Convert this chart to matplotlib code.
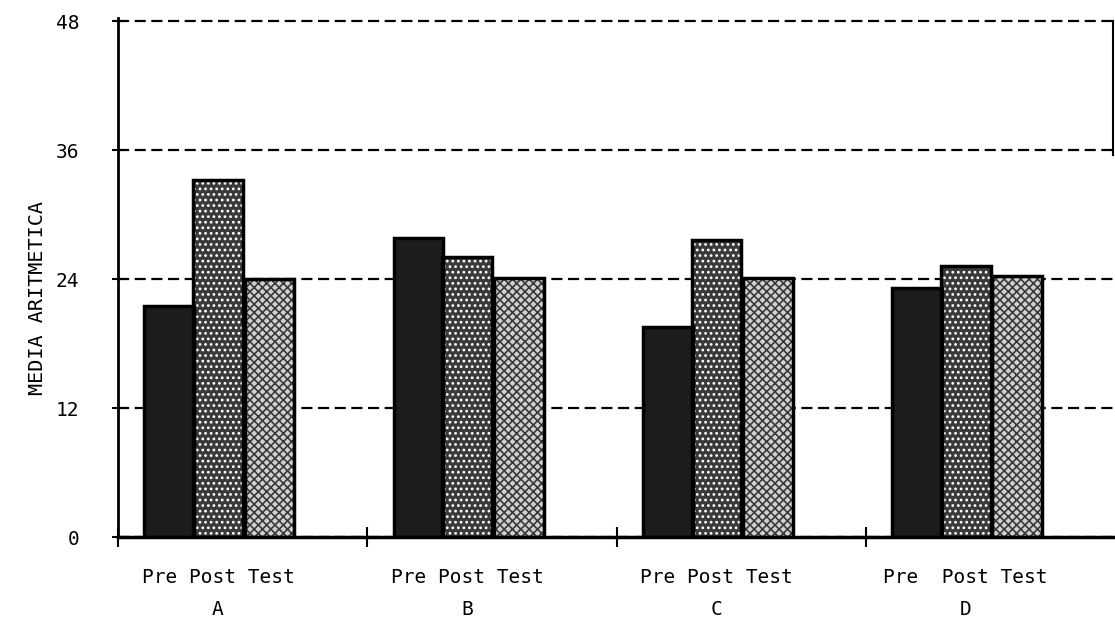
import numpy as np
import matplotlib.pyplot as plt

# medias por grupo
grupos = ["A", "B", "C", "D"]
etiquetas = ["Pre Post Test", "Pre Post Test", "Pre Post Test", "Pre  Post Test"]
pre = [21.5, 27.8, 19.5, 23.2]
post = [33.2, 26.1, 27.6, 25.2]
test = [24.0, 24.1, 24.1, 24.3]
yticks = [0, 12, 24, 36, 48]

plt.rcParams['font.family'] = ['DejaVu Sans Mono', 'DejaVu Sans']
plt.rcParams['hatch.linewidth'] = 1.2

fig = plt.figure(figsize=(11.15, 6.18), dpi=100)
ax = fig.add_axes([0.106, 0.131, 0.892, 0.84])

x = np.arange(len(grupos))
ancho = 0.2
series = [
    (pre, 0.205, '#1c1c1c', '', '#1c1c1c'),
    (post, 0.40, '#3a3a3a', '...', 'white'),
    (test, 0.607, '#d0d0d0', 'xxxx', '#3a3a3a'),
]
for vals, off, fc, hatch, hc in series:
    ax.bar(x + off, vals, ancho, color=fc, hatch=hatch, edgecolor=hc, linewidth=0, zorder=2)
    ax.bar(x + off, vals, ancho, fill=False, edgecolor='black', linewidth=2.5, zorder=3)

ax.set_xlim(0, 3.99)
ax.set_ylim(0, 48.3)

ax.set_yticks(yticks)
ax.set_yticklabels([str(v) for v in yticks], fontsize=14)
ax.tick_params(axis='y', direction='inout', length=8, width=1.5, pad=24)
ax.yaxis.grid(True, linestyle=(0, (5, 2.5)), color='black', linewidth=1.6)
ax.set_axisbelow(True)

ax.set_xticks(x)
ax.set_xticklabels([])
ax.tick_params(axis='x', which='major', direction='inout', length=14, width=1.5)
ax.set_xticks(x + 0.4, minor=True)
ax.set_xticklabels([e + "\n" + g for e, g in zip(etiquetas, grupos)], minor=True,
                   fontsize=14, linespacing=1.9)
ax.tick_params(axis='x', which='minor', length=0, pad=22)

ax.set_ylabel("MEDIA ARITMETICA", fontsize=14.5, labelpad=6)
ax.yaxis.set_label_coords(-0.072, 0.46)

ax.spines['top'].set_visible(False)
ax.spines['right'].set_bounds(35.5, 48)
ax.spines['right'].set_linewidth(1.5)
ax.spines['left'].set_linewidth(2)
ax.spines['bottom'].set_linewidth(2.5)

fig.savefig('out.png', dpi=100)
